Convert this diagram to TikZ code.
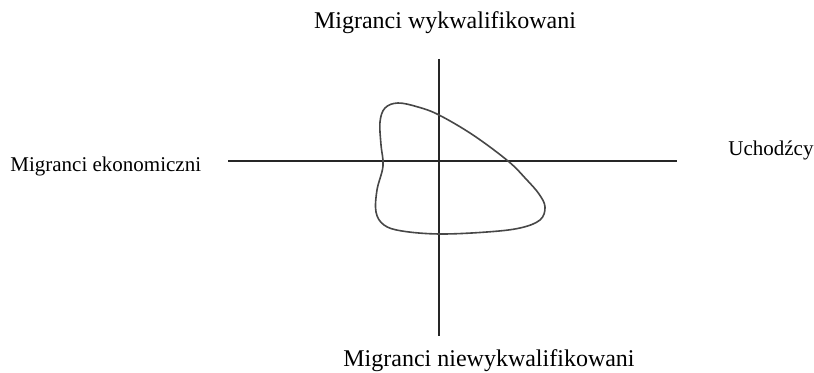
\documentclass[tikz,border=0pt]{standalone}
\usepackage{fontspec}
\setmainfont{Liberation Serif}
\usepackage{tikz}
\usetikzlibrary{positioning,calc}

\begin{document}
\begin{tikzpicture}[x=0.5pt,y=-0.5pt,font=\fontsize{12}{14}\selectfont,
  axisline/.style={line width=1pt,black!85},
  arealine/.style={line width=0.8pt,black!72},
  axislabel/.style={inner sep=0pt,anchor=base},
  sidelabel/.style={inner sep=0pt,font=\fontsize{10.5}{12}\selectfont}]
\useasboundingbox (0,0) rectangle (814,373);
% axes, px coordinates with y pointing down
\coordinate (axW) at (228,161);
\coordinate (axE) at (677,161);
\coordinate (axN) at (439,59);
\coordinate (axS) at (439,336);
\draw[axisline] (axW) -- (axE);
\draw[axisline] (axN) -- (axS);
% pole labels
\node[axislabel] (skilled) at (445,29) {Migranci wykwalifikowani};
\node[axislabel] (unskilled) at (489,367) {Migranci niewykwalifikowani};
\node[sidelabel,anchor=base west] (economic) at (10,171.5) {Migranci ekonomiczni};
\node[sidelabel,anchor=base west] (refugees) at (728,155.5) {Uchodźcy};
% outlined area
\draw[arealine] plot[smooth cycle,tension=0.6] coordinates {
  (398,103) (418,107) (439,115) (473,135) (508,161) (526,179) (539,194)
  (545,207) (540,220) (520,228) (487,232) (439,234) (402,231) (384,225)
  (376,212) (377,190) (383,166) (381,145) (380,122) (385,108)};
\end{tikzpicture}
\end{document}
